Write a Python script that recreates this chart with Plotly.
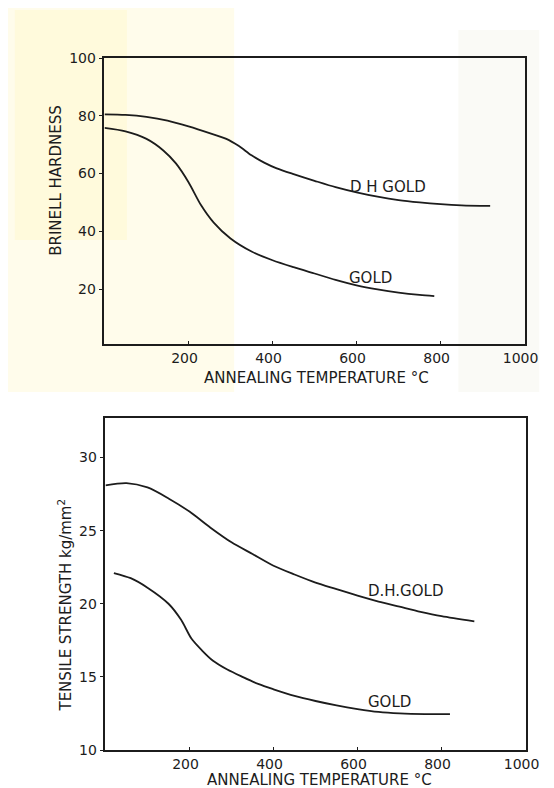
import plotly.graph_objects as go

# ---- Data: Brinell hardness vs annealing temperature (top chart)
top_dh_temp = [0, 50, 100, 150, 200, 250, 290, 320, 350, 380, 410, 450, 500, 550, 600, 650, 700, 750, 800, 850, 918]
top_dh_hard = [80.5, 80.3, 79.6, 78.3, 76.3, 74.0, 72.0, 69.5, 66.3, 63.8, 61.8, 59.8, 57.5, 55.3, 53.5, 52.0, 50.8, 50.0, 49.4, 49.0, 48.8]
top_au_temp = [0, 50, 100, 140, 170, 200, 230, 260, 300, 350, 400, 450, 500, 550, 600, 650, 700, 750, 785]
top_au_hard = [75.8, 74.6, 72.0, 68.0, 63.5, 57.0, 49.0, 43.0, 37.5, 33.0, 30.0, 27.6, 25.4, 23.2, 21.3, 19.9, 18.8, 18.0, 17.6]

# ---- Data: tensile strength vs annealing temperature (bottom chart)
bot_dh_temp = [0, 50, 100, 150, 200, 250, 300, 350, 400, 450, 500, 550, 600, 650, 700, 750, 800, 878]
bot_dh_ts = [28.1, 28.25, 27.95, 27.2, 26.3, 25.2, 24.2, 23.4, 22.6, 22.0, 21.45, 21.0, 20.55, 20.15, 19.8, 19.45, 19.15, 18.8]
bot_au_temp = [20, 60, 100, 150, 180, 205, 230, 256, 290, 326, 365, 400, 450, 500, 550, 600, 650, 700, 760, 820]
bot_au_ts = [22.1, 21.75, 21.1, 20.0, 18.9, 17.6, 16.8, 16.1, 15.5, 15.0, 14.5, 14.15, 13.7, 13.35, 13.05, 12.8, 12.6, 12.5, 12.45, 12.45]

x_ticks = [200, 400, 600, 800, 1000]
top_y_ticks = [20, 40, 60, 80, 100]
bot_y_ticks = [10, 15, 20, 25, 30]

INK = "#1c1c1c"
FONT = "DejaVu Sans"

# page-pixel -> paper fraction (calibrated for how the page is rendered)
def px(x):
    return (x - 8) / 554

def py(y):
    return 1 - (y - 16) / 772

fig = go.Figure()
line = dict(color=INK, width=1.8, shape="spline", smoothing=0.8)
fig.add_trace(go.Scatter(x=top_dh_temp, y=top_dh_hard, mode="lines", line=line, xaxis="x", yaxis="y", showlegend=False))
fig.add_trace(go.Scatter(x=top_au_temp, y=top_au_hard, mode="lines", line=line, xaxis="x", yaxis="y", showlegend=False))
fig.add_trace(go.Scatter(x=bot_dh_temp, y=bot_dh_ts, mode="lines", line=line, xaxis="x2", yaxis="y2", showlegend=False))
fig.add_trace(go.Scatter(x=bot_au_temp, y=bot_au_ts, mode="lines", line=line, xaxis="x2", yaxis="y2", showlegend=False))

axis_common = dict(showline=True, linecolor=INK, linewidth=1.6, mirror=True, showgrid=False,
                   zeroline=False, tickcolor=INK, tickwidth=1.2, ticklabeloverflow="allow",
                   tickfont=dict(size=14))

fig.update_layout(
    width=554, height=788, autosize=False,
    margin=dict(l=0, r=0, t=0, b=0, pad=0),
    paper_bgcolor="white", plot_bgcolor="rgba(0,0,0,0)",
    font=dict(family=FONT, color=INK),
    xaxis=dict(domain=[px(107), px(538)], anchor="y", range=[0, 1000], tickvals=x_ticks,
               ticks="inside", ticklen=3, ticklabelshift=-4, **axis_common),
    yaxis=dict(domain=[py(344), py(58)], anchor="x", range=[1, 100], tickvals=top_y_ticks,
               ticks="outside", ticklen=4, **axis_common),
    xaxis2=dict(domain=[px(108), px(539)], anchor="y2", range=[0, 1000], tickvals=x_ticks,
                ticks="inside", ticklen=3, ticklabelshift=-4, **axis_common),
    yaxis2=dict(domain=[py(750), py(418)], anchor="x2", range=[10, 32.7], tickvals=bot_y_ticks,
                ticks="outside", ticklen=4, **axis_common),
)

# faint scan tint behind the top chart
fig.add_shape(type="rect", xref="paper", yref="paper", x0=px(0), x1=px(240), y0=py(392), y1=py(0),
              fillcolor="rgba(255,250,222,0.6)", line_width=0, layer="below")
fig.add_shape(type="rect", xref="paper", yref="paper", x0=px(15), x1=px(130), y0=py(240), y1=py(10),
              fillcolor="rgba(255,244,185,0.3)", line_width=0, layer="below")
fig.add_shape(type="rect", xref="paper", yref="paper", x0=px(470), x1=px(553), y0=py(392), y1=py(30),
              fillcolor="rgba(244,244,236,0.45)", line_width=0, layer="below")

ann_font = dict(family=FONT, size=15, color=INK)
centered = dict(showarrow=False, xanchor="center", yanchor="middle")
fig.add_annotation(x=674, y=55.3, xref="x", yref="y", text="D H GOLD", font=ann_font, **centered)
fig.add_annotation(x=633, y=24, xref="x", yref="y", text="GOLD", font=ann_font, **centered)
fig.add_annotation(x=713, y=20.9, xref="x2", yref="y2", text="D.H.GOLD", font=ann_font, **centered)
fig.add_annotation(x=675, y=13.3, xref="x2", yref="y2", text="GOLD", font=ann_font, **centered)

title_font = dict(family=FONT, size=15, color=INK)
fig.add_annotation(x=px(57), y=py(180), xref="paper", yref="paper", text="BRINELL HARDNESS",
                   textangle=-90, font=title_font, **centered)
fig.add_annotation(x=px(324), y=py(378), xref="paper", yref="paper", text="ANNEALING TEMPERATURE °C",
                   font=title_font, **centered)
fig.add_annotation(x=px(66), y=py(605), xref="paper", yref="paper", text="TENSILE STRENGTH kg/mm<sup>2</sup>",
                   textangle=-90, font=title_font, **centered)
fig.add_annotation(x=px(328), y=py(780), xref="paper", yref="paper", text="ANNEALING TEMPERATURE °C",
                   font=title_font, **centered)

fig.write_html("out.html", config={"displayModeBar": False})
